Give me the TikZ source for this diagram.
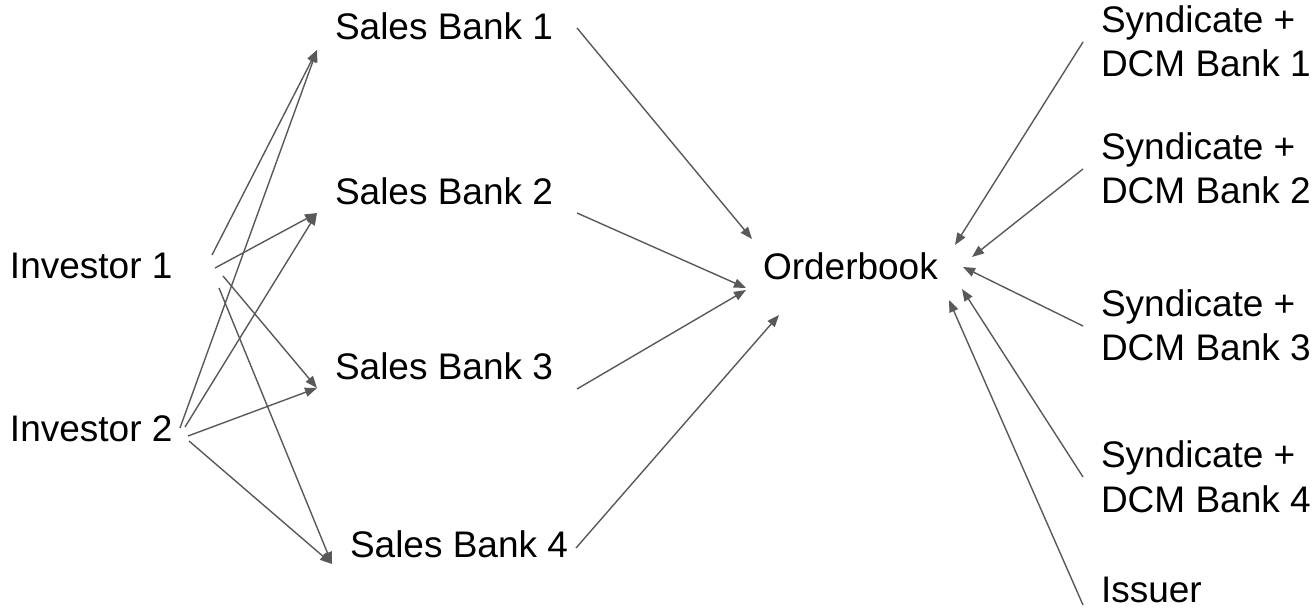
\documentclass[tikz,border=0pt]{standalone}
\usepackage{fontspec}
\setmainfont{Liberation Sans}
\usetikzlibrary{arrows.meta}
\definecolor{arrowgray}{HTML}{595959}
\tikzset{
  lbl/.style={anchor=base west, inner sep=0pt, outer sep=0pt, align=left,
    font=\fontsize{18.5}{22}\selectfont},
  arr/.style={draw=arrowgray, line width=0.7pt,
    -{Triangle[length=6pt, width=4.6pt]}, arrowgray}
}
\begin{document}
\begin{tikzpicture}[x=0.5pt, y=-0.5pt]
\useasboundingbox (0,0) rectangle (1316,608);
% nodes (multi-line nodes are placed by the baseline of their last line)
\node[lbl] (i1) at (10,279) {Investor 1};
\node[lbl] (i2) at (10,442) {Investor 2};
\node[lbl] (sb1) at (335,40) {Sales Bank 1};
\node[lbl] (sb2) at (335,205) {Sales Bank 2};
\node[lbl] (sb3) at (335,380) {Sales Bank 3};
\node[lbl] (sb4) at (350,557) {Sales Bank 4};
\node[lbl] (ob) at (763,280) {Orderbook};
\node[lbl] (s1) at (1101,77) {Syndicate +\\DCM Bank 1};
\node[lbl] (s2) at (1101,204) {Syndicate +\\DCM Bank 2};
\node[lbl] (s3) at (1101,361) {Syndicate +\\DCM Bank 3};
\node[lbl] (s4) at (1101,512) {Syndicate +\\DCM Bank 4};
\node[lbl] (is) at (1101,602) {Issuer};
% investors -> sales banks
\draw[arr] ([shift={(202,-24)}]i1.base west) -- ([shift={(-18,10)}]sb1.base west);
\draw[arr] ([shift={(170,-14)}]i2.base west) -- ([shift={(-18,10)}]sb1.base west);
\draw[arr] ([shift={(205,-11)}]i1.base west) -- ([shift={(-18,8)}]sb2.base west);
\draw[arr] ([shift={(175,-15)}]i2.base west) -- ([shift={(-18,8)}]sb2.base west);
\draw[arr] ([shift={(213,-3)}]i1.base west) -- ([shift={(-18,8)}]sb3.base west);
\draw[arr] ([shift={(178,-6)}]i2.base west) -- ([shift={(-18,8)}]sb3.base west);
\draw[arr] ([shift={(209,9)}]i1.base west) -- ([shift={(-18,7)}]sb4.base west);
\draw[arr] ([shift={(179,-1)}]i2.base west) -- ([shift={(-18,7)}]sb4.base west);
% sales banks -> orderbook
\draw[arr] ([shift={(242,-12)}]sb1.base west) -- ([shift={(-11,-41)}]ob.base west);
\draw[arr] ([shift={(242,8)}]sb2.base west) -- ([shift={(-17,8)}]ob.base west);
\draw[arr] ([shift={(242,9)}]sb3.base west) -- ([shift={(-17,10)}]ob.base west);
\draw[arr] ([shift={(226,-9)}]sb4.base west) -- ([shift={(16,35)}]ob.base west);
% syndicate / issuer -> orderbook
\draw[arr] ([shift={(-18,-35)}]s1.base west) -- ([shift={(192,-35)}]ob.base west);
\draw[arr] ([shift={(-18,-35)}]s2.base west) -- ([shift={(209,-23)}]ob.base west);
\draw[arr] ([shift={(-18,-35)}]s3.base west) -- ([shift={(200,-13)}]ob.base west);
\draw[arr] ([shift={(-18,-35)}]s4.base west) -- ([shift={(199,9)}]ob.base west);
\draw[arr] ([shift={(-18,3)}]is.base west) -- ([shift={(186,20)}]ob.base west);
\end{tikzpicture}
\end{document}
